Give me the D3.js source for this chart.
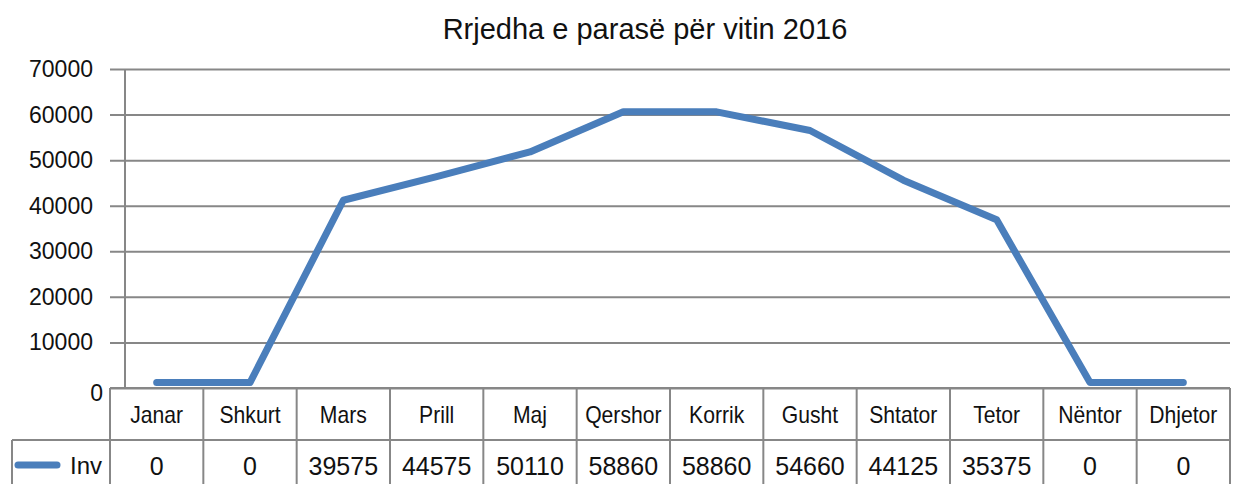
<!DOCTYPE html>
<html>
<head>
<meta charset="utf-8">
<script src="https://cdn.jsdelivr.net/npm/d3@7"></script>
<style>
  body { margin: 0; background: #fff; }
  text { font-family: "Liberation Sans", Arial, sans-serif; fill: #111; }
</style>
</head>
<body>
<svg id="chart" width="1240" height="484"></svg>
<script>
// months shown in the data table
const months = ["Janar", "Shkurt", "Mars", "Prill", "Maj", "Qershor", "Korrik", "Gusht", "Shtator", "Tetor", "Nëntor", "Dhjetor"];
// values printed in the table row
const tableValues = [0, 0, 39575, 44575, 50110, 58860, 58860, 54660, 44125, 35375, 0, 0];
// values where the line is actually drawn
const lineValues = [1200, 1200, 41200, 46400, 51800, 60600, 60600, 56500, 45600, 36900, 1200, 1200];
const yTicks = [0, 10000, 20000, 30000, 40000, 50000, 60000, 70000];
const seriesName = "Inv";
const title = "Rrjedha e parasë për vitin 2016";

const svg = d3.select("#chart");
const grey = "#878787";
const blue = "#4a7ebb";

const plotLeft = 110, plotRight = 1230, plotTop = 69, plotBottom = 388;
const rowH = 52;

let x = d3.scaleBand().domain(months).range([plotLeft, plotRight]);
let y = d3.scaleLinear().domain([0, 70000]).range([plotBottom, plotTop]);

// title
svg.append("text")
  .attr("x", 645)
  .attr("y", 39)
  .attr("text-anchor", "middle")
  .style("font-size", "29px")
  .text(title);

// gridlines
svg.append("g")
  .attr("transform", "translate(" + plotLeft + ",0)")
  .call(d3.axisLeft(y).tickValues(yTicks).tickSize(-(plotRight - plotLeft)).tickFormat(""))
  .call(g => g.select(".domain").remove())
  .call(g => g.selectAll("line").attr("stroke", grey).attr("stroke-width", 2));

// y axis line
svg.append("line")
  .attr("x1", 125).attr("x2", 125)
  .attr("y1", plotTop).attr("y2", plotBottom)
  .attr("stroke", grey).attr("stroke-width", 2);

// y tick labels
svg.append("g").selectAll("text")
  .data(yTicks)
  .enter()
  .append("text")
    .attr("x", d => d === 0 ? 103 : 93)
    .attr("y", d => y(d) + (d === 0 ? 5 : 0))
    .attr("dy", "0.35em")
    .attr("text-anchor", "end")
    .style("font-size", "23px")
    .text(d => d);

// table lines
let tbl = svg.append("g").attr("stroke", grey).attr("stroke-width", 2);
tbl.append("line").attr("x1", plotLeft).attr("x2", plotRight).attr("y1", plotBottom).attr("y2", plotBottom);
tbl.append("line").attr("x1", 12).attr("x2", plotRight).attr("y1", plotBottom + rowH).attr("y2", plotBottom + rowH);
tbl.append("line").attr("x1", 12).attr("x2", 12).attr("y1", plotBottom + rowH).attr("y2", 484);
tbl.selectAll(".col")
  .data(months.map(m => x(m)).concat([plotRight]))
  .enter()
  .append("line")
    .attr("class", "col")
    .attr("x1", d => d).attr("x2", d => d)
    .attr("y1", plotBottom).attr("y2", 484);

// category row (slightly condensed like the original)
svg.append("g").selectAll("text")
  .data(months)
  .enter()
  .append("text")
    .attr("transform", d => "translate(" + (x(d) + x.bandwidth() / 2) + "," + (plotBottom + rowH / 2 + 1) + ") scale(0.92,1)")
    .attr("dy", "0.35em")
    .attr("text-anchor", "middle")
    .style("font-size", "23px")
    .text(d => d);

// value row
svg.append("g").selectAll("text")
  .data(tableValues)
  .enter()
  .append("text")
    .attr("x", (d, i) => x(months[i]) + x.bandwidth() / 2)
    .attr("y", 466)
    .attr("dy", "0.35em")
    .attr("text-anchor", "middle")
    .style("font-size", "25px")
    .text(d => d);

// legend key in table
svg.append("line")
  .attr("x1", 18).attr("x2", 57)
  .attr("y1", 465).attr("y2", 465)
  .attr("stroke", blue).attr("stroke-width", 7).attr("stroke-linecap", "round");
svg.append("text")
  .attr("x", 70).attr("y", 466)
  .attr("dy", "0.35em")
  .style("font-size", "24px")
  .text(seriesName);

// the series line
let line = d3.line()
  .x((d, i) => x(months[i]) + x.bandwidth() / 2)
  .y(d => y(d));

svg.append("path")
  .datum(lineValues)
  .attr("d", line)
  .attr("fill", "none")
  .attr("stroke", blue)
  .attr("stroke-width", 7)
  .attr("stroke-linecap", "round")
  .attr("stroke-linejoin", "round");
</script>
</body>
</html>
